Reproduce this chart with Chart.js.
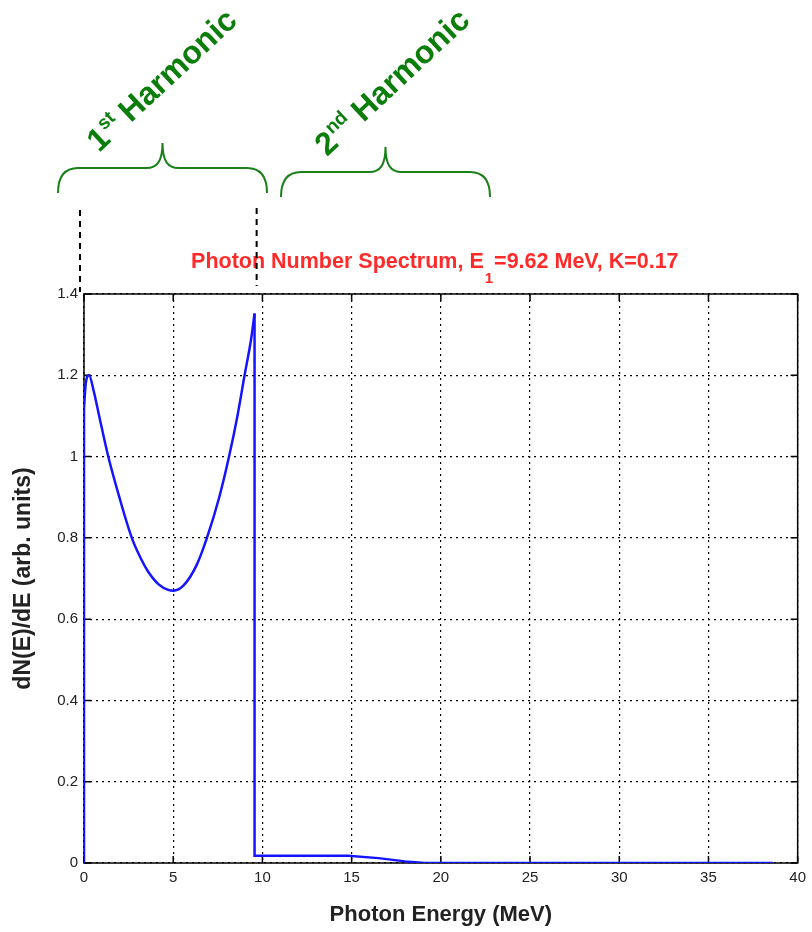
<!DOCTYPE html>
<html>
<head>
<meta charset="utf-8">
<script src="https://cdn.jsdelivr.net/npm/chart.js@4.4.1/dist/chart.umd.min.js"></script>
<style>
  html, body { margin: 0; padding: 0; background: #fff; }
  #spectrum { display: block; }
</style>
</head>
<body>
<canvas id="spectrum" width="812" height="932"></canvas>
<script>
// values: photon energy (MeV) and dN/dE (arb. units)
// the vertical edge at E = 0
const riseEnergy = [0, 0];
const riseValue = [0, 1.12];
// first harmonic (smooth part)
const firstEnergy = [0, 0.1, 0.28, 0.55, 0.85, 1.36, 1.98, 2.68, 3.2, 3.58, 4.2, 4.72, 5.0,
  5.58, 6.31, 6.89, 7.58, 8.13, 8.6, 9.0, 9.37, 9.56];
const firstValue = [1.12, 1.18, 1.2, 1.16, 1.1, 1.0, 0.9, 0.8, 0.748, 0.718, 0.685, 0.672, 0.67,
  0.683, 0.733, 0.8, 0.9, 1.0, 1.1, 1.2, 1.29, 1.352];
// cut-off at E1, second harmonic and the empty rest
const tailEnergy = [9.56, 9.56, 12, 14.8, 16.5, 18.0, 19.1, 25, 38.6];
const tailValue = [1.352, 0.018, 0.018, 0.018, 0.012, 0.004, 0, 0, 0];

const xTicks = [0, 5, 10, 15, 20, 25, 30, 35, 40];
const xTickLabels = ['0', '5', '10', '15', '20', '25', '30', '35', '40'];
const yTicks = [0, 0.2, 0.4, 0.6, 0.8, 1, 1.2, 1.4];
const yTickLabels = ['0', '0.2', '0.4', '0.6', '0.8', '1', '1.2', '1.4'];

const titleParts = ['Photon Number Spectrum, E', '1', '=9.62 MeV, K=0.17'];
const harmonicLabels = [['1', 'st', ' Harmonic'], ['2', 'nd', ' Harmonic']];
const firstHarmonicEnergy = 9.62;

const FONT = '"Liberation Sans", Arial, Helvetica, sans-serif';
const GREEN = '#0b7d0b';
const BLUE = '#1414ff';

function toPoints(xs, ys) {
  return xs.map((e, i) => ({ x: e, y: ys[i] }));
}

// curly brace opening downwards, tip at the top
function drawBrace(ctx, xl, xr, yEnd, yBar, yTip) {
  const xm = (xl + xr) / 2;
  const r = 20;
  ctx.beginPath();
  ctx.moveTo(xl, yEnd);
  ctx.quadraticCurveTo(xl, yBar, xl + r, yBar);
  ctx.lineTo(xm - 16, yBar);
  ctx.bezierCurveTo(xm - 6, yBar, xm, yBar - 6, xm, yTip);
  ctx.bezierCurveTo(xm, yBar - 6, xm + 6, yBar, xm + 16, yBar);
  ctx.lineTo(xr - r, yBar);
  ctx.quadraticCurveTo(xr, yBar, xr, yEnd);
  ctx.stroke();
}

function drawHarmonic(ctx, parts, x0, y0, angle) {
  ctx.save();
  ctx.translate(x0, y0);
  ctx.rotate(-angle * Math.PI / 180);
  ctx.fillStyle = GREEN;
  ctx.textBaseline = 'alphabetic';
  ctx.textAlign = 'left';
  let pos = 0;
  ctx.font = 'bold 32px ' + FONT;
  ctx.fillText(parts[0], pos, 0);
  pos += ctx.measureText(parts[0]).width;
  ctx.font = 'bold 19px ' + FONT;
  ctx.fillText(parts[1], pos + 1, -13);
  pos += ctx.measureText(parts[1]).width;
  ctx.font = 'bold 32px ' + FONT;
  ctx.fillText(parts[2], pos, 0);
  ctx.restore();
}

const frameAndNotes = {
  id: 'frameAndNotes',
  beforeDatasetsDraw(chart) {
    const { ctx, chartArea: a, scales: { x, y } } = chart;
    ctx.save();
    ctx.strokeStyle = '#000';
    ctx.lineWidth = 1.5;
    ctx.setLineDash([]);
    ctx.strokeRect(a.left, a.top, a.right - a.left, a.bottom - a.top);
    // MATLAB style ticks pointing inwards
    ctx.beginPath();
    xTicks.forEach(v => {
      const px = x.getPixelForValue(v);
      ctx.moveTo(px, a.bottom); ctx.lineTo(px, a.bottom - 7);
      ctx.moveTo(px, a.top); ctx.lineTo(px, a.top + 7);
    });
    yTicks.forEach(v => {
      const py = y.getPixelForValue(v);
      ctx.moveTo(a.left, py); ctx.lineTo(a.left + 7, py);
      ctx.moveTo(a.right, py); ctx.lineTo(a.right - 7, py);
    });
    ctx.stroke();
    ctx.restore();
  },
  afterDraw(chart) {
    const { ctx, chartArea: a, scales: { x } } = chart;
    ctx.save();

    // red title with subscript
    const mid = (a.left + a.right) / 2;
    ctx.fillStyle = '#ff2a2a';
    ctx.textBaseline = 'alphabetic';
    ctx.textAlign = 'left';
    ctx.font = 'bold 21.5px ' + FONT;
    const w0 = ctx.measureText(titleParts[0]).width;
    const w2 = ctx.measureText(titleParts[2]).width;
    ctx.font = 'bold 15px ' + FONT;
    const w1 = ctx.measureText(titleParts[1]).width + 2;
    const tx = mid - (w0 + w1 + w2) / 2 - 6;
    const ty = a.top - 26;
    ctx.font = 'bold 21.5px ' + FONT;
    ctx.fillText(titleParts[0], tx, ty);
    ctx.font = 'bold 15px ' + FONT;
    ctx.fillText(titleParts[1], tx + w0 + 1, ty + 15);
    ctx.font = 'bold 21.5px ' + FONT;
    ctx.fillText(titleParts[2], tx + w0 + w1, ty);

    // dashed markers at the edges of the first harmonic
    ctx.strokeStyle = '#000';
    ctx.lineWidth = 2;
    ctx.setLineDash([6, 5]);
    const m0 = x.getPixelForValue(0) - 4;
    const m1 = x.getPixelForValue(firstHarmonicEnergy) + 1;
    ctx.beginPath();
    ctx.moveTo(m0, 210); ctx.lineTo(m0, a.top - 2);
    ctx.moveTo(m1, 208); ctx.lineTo(m1, a.top - 8);
    ctx.stroke();
    ctx.setLineDash([]);

    // braces and labels
    ctx.strokeStyle = '#1a801a';
    ctx.lineWidth = 2;
    drawBrace(ctx, 58, 267, 193, 168, 143);
    drawBrace(ctx, 281, 490, 197, 172, 147);
    drawHarmonic(ctx, harmonicLabels[0], 99, 153, 43);
    drawHarmonic(ctx, harmonicLabels[1], 327, 157, 43);

    ctx.restore();
  }
};

const lineStyle = {
  borderColor: BLUE,
  borderWidth: 2.5,
  pointRadius: 0,
  fill: false
};

const ctx = document.getElementById('spectrum').getContext('2d');
const spectrumChart = new Chart(ctx, {
  type: 'line',
  data: {
    datasets: [
      Object.assign({ label: 'edge', data: toPoints(riseEnergy, riseValue), tension: 0 }, lineStyle),
      Object.assign({ label: '1st harmonic', data: toPoints(firstEnergy, firstValue), cubicInterpolationMode: 'monotone' }, lineStyle),
      Object.assign({ label: 'tail', data: toPoints(tailEnergy, tailValue), tension: 0 }, lineStyle)
    ]
  },
  options: {
    responsive: false,
    animation: false,
    layout: { padding: { top: 294, right: 10, left: 0, bottom: 0 } },
    plugins: {
      legend: { display: false },
      tooltip: { enabled: false }
    },
    scales: {
      x: {
        type: 'linear',
        min: 0,
        max: 40,
        afterBuildTicks: scale => { scale.ticks = xTicks.map(v => ({ value: v })); },
        afterFit: scale => { scale.height = 69; },
        ticks: {
          autoSkip: false,
          maxRotation: 0,
          padding: 6,
          color: '#222',
          font: { family: FONT, size: 15 },
          callback: (v, i) => xTickLabels[i]
        },
        grid: { color: '#000', lineWidth: 1.2, drawTicks: false },
        border: { display: false, dash: [2, 4] },
        title: {
          display: true,
          text: 'Photon Energy (MeV)',
          color: '#222',
          font: { family: FONT, size: 22, weight: 'bold' },
          padding: { top: 0, bottom: 4 }
        }
      },
      y: {
        type: 'linear',
        min: 0,
        max: 1.4,
        afterBuildTicks: scale => { scale.ticks = yTicks.map(v => ({ value: v })); },
        afterFit: scale => { scale.width = 84; },
        ticks: {
          autoSkip: false,
          padding: 6,
          color: '#222',
          font: { family: FONT, size: 15 },
          callback: (v, i) => yTickLabels[i]
        },
        grid: { color: '#000', lineWidth: 1.2, drawTicks: false },
        border: { display: false, dash: [2, 4] },
        title: {
          display: true,
          text: 'dN(E)/dE (arb. units)',
          color: '#222',
          font: { family: FONT, size: 23, weight: 'bold' },
          padding: { top: 10, bottom: 0 }
        }
      }
    }
  },
  plugins: [frameAndNotes]
});
</script>
</body>
</html>
